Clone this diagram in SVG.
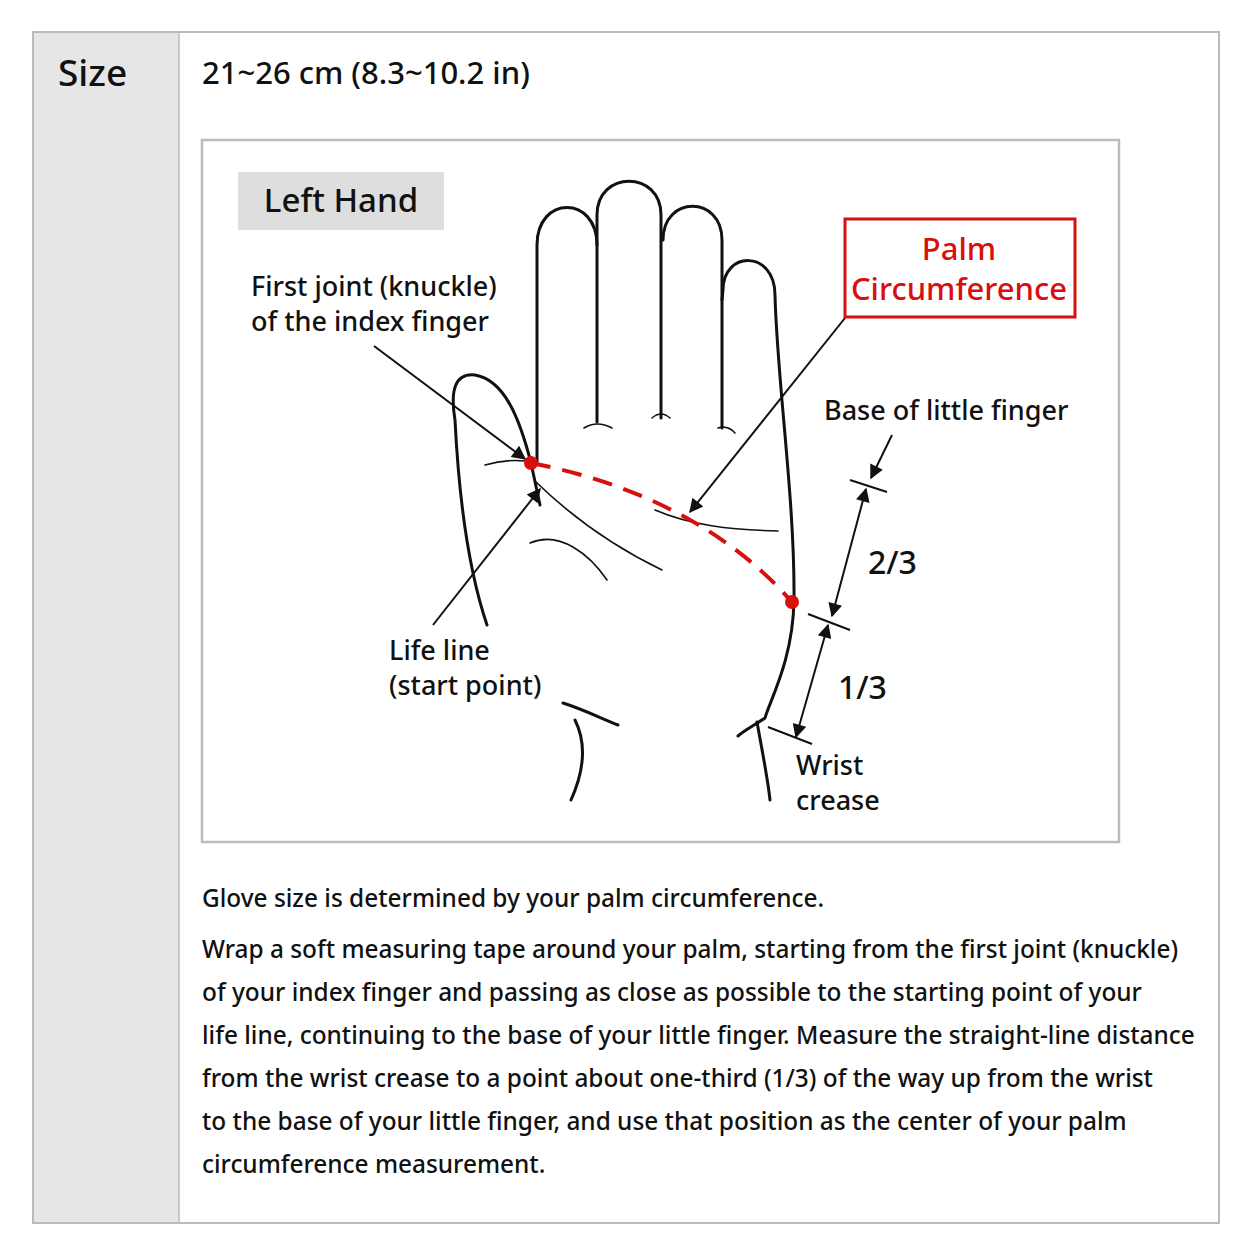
<svg xmlns="http://www.w3.org/2000/svg" width="1254" height="1254" viewBox="0 0 1254 1254">
<style>
.t{font-family:"Noto Sans","Open Sans",sans-serif;fill:#111;font-weight:500}
.ln{fill:none;stroke:#111;stroke-width:3;stroke-linecap:round}
.th{fill:none;stroke:#111;stroke-width:1.6;stroke-linecap:round}
.ar{fill:none;stroke:#111;stroke-width:2}
</style>
<defs>
<marker id="ah" viewBox="0 0 10 10" refX="9" refY="5" markerWidth="9" markerHeight="7" orient="auto-start-reverse" markerUnits="strokeWidth">
<path d="M0,0 L10,5 L0,10 z" fill="#111"/>
</marker>
</defs>
<rect width="1254" height="1254" fill="#fff"/>
<rect x="33" y="32" width="1186" height="1191" fill="#fff" stroke="#bbb" stroke-width="2"/>
<rect x="34" y="33" width="145" height="1189" fill="#e6e6e6"/>
<line x1="179" y1="33" x2="179" y2="1222" stroke="#bbb" stroke-width="1.5"/>
<text class="t" x="58" y="86" font-size="37">Size</text>
<text class="t" x="202" y="84" font-size="31">21~26 cm (8.3~10.2 in)</text>
<rect x="202" y="140" width="917" height="702" fill="#fff" stroke="#bbb" stroke-width="2.5"/>
<g id="title"><rect x="238" y="172" width="206" height="58" fill="#dedede"/>
<text class="t" x="341" y="212" font-size="33" text-anchor="middle">Left Hand</text></g>
<g id="hand">
<path class="ln" d="M537,463 L537,245 C537,195 597,195 597,245 L597,422"/>
<path class="th" d="M584,428 Q597,420 612,428"/>
<path class="ln" d="M597,245 L597,215 C597,170 661,170 661,215 L661,418"/>
<path class="th" d="M652,418 Q661,410 670,418"/>
<path class="ln" d="M663,240 C663,195 722,195 722,240 L722,428"/>
<path class="th" d="M718,428 Q728,425 735,433"/>
<path class="ln" d="M722,300 L723,290 C723,250 775,250 775,295 C777,380 795,500 794,600 C793,660 770,700 765,718 C755,725 745,730 738,736"/>
<path class="ln" d="M757,722 C762,750 768,780 770,800"/>
<path class="ln" d="M531,463 C520,420 505,380 475,375 C455,373 450,390 455,420 C458,480 465,560 487,625"/>
<path class="th" d="M485,465 Q505,459 525,461"/>
<path class="ln" d="M531,463 L540,505"/>
<path class="th" d="M536,482 C570,515 610,545 662,570"/>
<path class="th" d="M530,543 C560,530 590,555 607,580"/>
<path class="th" d="M655,510 C690,525 730,530 778,531"/>
<path class="ln" d="M563,703 C585,710 600,718 618,725"/>
<path class="ln" d="M575,720 C590,750 580,780 571,800"/>
</g>
<g id="measure">
<path d="M531,463 C620,480 720,520 792,602" fill="none" stroke="#d80f0f" stroke-width="4" stroke-dasharray="20,12"/>
<circle cx="531" cy="463" r="7" fill="#d80f0f"/>
<circle cx="792" cy="602" r="7" fill="#d80f0f"/>
</g>
<g id="connectors">
<line class="ar" x1="374" y1="346" x2="525" y2="459" marker-end="url(#ah)"/>
<line class="ar" x1="433" y1="625" x2="540" y2="489" marker-end="url(#ah)"/>
<line class="ar" x1="845" y1="318" x2="690" y2="512" marker-end="url(#ah)"/>
<line class="ar" x1="892" y1="435" x2="871" y2="478" marker-end="url(#ah)"/>
<line class="ar" x1="850" y1="480" x2="887" y2="492"/>
<line class="ar" x1="866" y1="489" x2="832" y2="616" marker-start="url(#ah)" marker-end="url(#ah)"/>
<line class="ar" x1="808" y1="614" x2="850" y2="630"/>
<line class="ar" x1="828" y1="625" x2="796" y2="737" marker-start="url(#ah)" marker-end="url(#ah)"/>
<line class="ar" x1="768" y1="727" x2="812" y2="744"/>
</g>
<g id="labels">
<text class="t" x="251" y="296" font-size="27">First joint (knuckle)</text>
<text class="t" x="251" y="331" font-size="27">of the index finger</text>
<text class="t" x="389" y="660" font-size="27">Life line</text>
<text class="t" x="389" y="695" font-size="27">(start point)</text>
<text class="t" x="824" y="420" font-size="27">Base of little finger</text>
<text class="t" x="868" y="574" font-size="32">2/3</text>
<text class="t" x="838" y="699" font-size="32">1/3</text>
<text class="t" x="796" y="775" font-size="27">Wrist</text>
<text class="t" x="796" y="810" font-size="27">crease</text>
</g>
<g id="palm">
<rect x="845" y="219" width="230" height="98" fill="#fff" stroke="#d80f0f" stroke-width="3"/>
<text class="t" x="959" y="260" font-size="31" text-anchor="middle" style="fill:#d80f0f">Palm</text>
<text class="t" x="959" y="300" font-size="31" text-anchor="middle" style="fill:#d80f0f">Circumference</text>
</g>
<g class="t" font-size="24.4">
<text x="202" y="907">Glove size is determined by your palm circumference.</text>
<text x="202" y="958">Wrap a soft measuring tape around your palm, starting from the first joint (knuckle)</text>
<text x="202" y="1001">of your index finger and passing as close as possible to the starting point of your</text>
<text x="202" y="1044">life line, continuing to the base of your little finger. Measure the straight-line distance</text>
<text x="202" y="1087">from the wrist crease to a point about one-third (1/3) of the way up from the wrist</text>
<text x="202" y="1130">to the base of your little finger, and use that position as the center of your palm</text>
<text x="202" y="1173">circumference measurement.</text>
</g>
</svg>
